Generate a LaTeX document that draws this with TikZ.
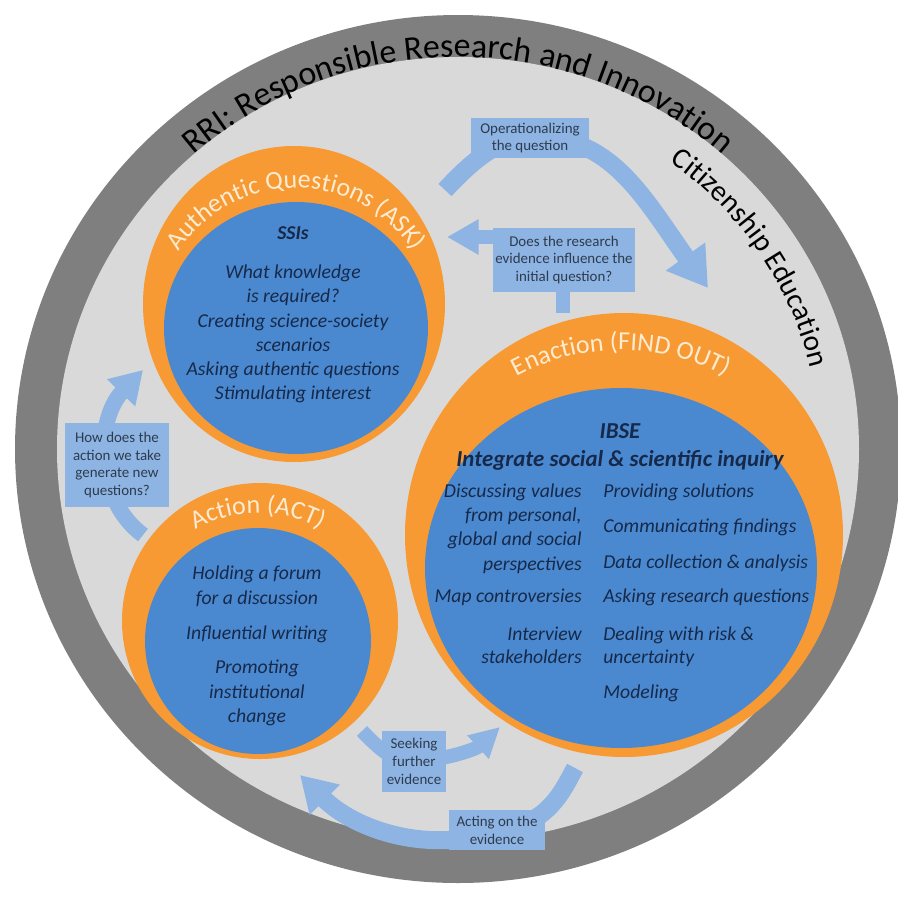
\documentclass[tikz,border=0pt]{standalone}
\usepackage{fontspec}
\setmainfont{Carlito}
\usetikzlibrary{arrows.meta, decorations.text}

\definecolor{ringgray}{HTML}{7F7F7F}
\definecolor{fieldgray}{HTML}{D9D9D9}
\definecolor{ringorange}{HTML}{F79A33}
\definecolor{coreblue}{HTML}{4A89CF}
\definecolor{loopblue}{HTML}{8DB4E2}
\definecolor{coretext}{HTML}{17294A}
\definecolor{looptext}{HTML}{2E3B4E}
\definecolor{ringtext}{HTML}{FDEBD2}

\tikzset{
  loopbox/.style={fill=loopblue, text=looptext, inner sep=0pt, align=center,
    font=\fontsize{8.5}{10.2}\selectfont},
  cyclearrow/.style={draw=loopblue, line width=#1},
  coretxt/.style={text=coretext, inner sep=0pt, font=\fontsize{11.2}{13.8}\selectfont\itshape},
  ringlabel/.style={decorate, decoration={text along path, text align=center,
    text color=ringtext, text={|\fontsize{14.8}{15}\selectfont|#1}}},
}

\begin{document}
\begin{tikzpicture}[x=0.02cm, y=-0.02cm]
  \clip (0,0) rectangle (898,907);
  \fill[white] (0,0) rectangle (898,907);

  % outer frame
  \fill[ringgray] (458,449) ellipse [x radius=443, y radius=434];
  \fill[fieldgray] (458,449) ellipse [x radius=401, y radius=392];
  \path[decorate, decoration={text along path, text align=center,
      text={|\fontsize{19.3}{20}\selectfont|RRI: Responsible Research and Innovation}}]
    ([shift={(458,449)}]-165:400 and 392) arc [start angle=-165, end angle=-15, x radius=400, y radius=392];
  \path[decorate, decoration={text along path, text align=center,
      text={|\fontsize{16.7}{17}\selectfont|Citizenship Education}}]
    ([shift={(458,449)}]-78.5:362 and 354) arc [start angle=-78.5, end angle=11.5, x radius=362, y radius=354];

  % the three stages
  \fill[ringorange] (294,304) ellipse [x radius=151, y radius=158];
  \fill[coreblue] (296,328) ellipse [x radius=132, y radius=126];
  \path[ringlabel={Authentic Questions (ASK)}]
    ([shift={(296,328)}]-160:140) arc [start angle=-160, end angle=-20, radius=140];

  \fill[ringorange] (624,535) ellipse [x radius=219, y radius=222];
  \fill[coreblue] (621,568) ellipse [x radius=196, y radius=180];
  \path[ringlabel={Enaction (FIND OUT)}]
    ([shift={(621,568)}]-130:218) arc [start angle=-130, end angle=-50, radius=218];

  \fill[ringorange] (260,621) circle [radius=138];
  \fill[coreblue] (258,641) circle [radius=113];
  \path[ringlabel={Action (ACT)}]
    ([shift={(258,641)}]-140:128) arc [start angle=-140, end angle=-40, radius=128];

  \node[coretxt] (ssis) at (293,233) {\bfseries SSIs};
  \node[coretxt, align=center] (asklist) at (293,334) {What knowledge\\is required?\\Creating science-society\\scenarios\\Asking authentic questions\\Stimulating interest};

  \node[coretxt, align=center] (actlist) at (257,646) {Holding a forum\\for a discussion\\[6pt]Influential writing\\[6pt]Promoting\\institutional\\change};

  \node[coretxt, font=\fontsize{13}{16.4}\selectfont\bfseries\itshape, align=center] (ibse) at (620,447) {IBSE\\Integrate social \& scientific inquiry};
  \foreach \txt/\yy [count=\i] in {Discussing values/497, {from personal,}/521, global and social/545,
      perspectives/570, Map controversies/602, Interview/640, stakeholders/663}
    \node[coretxt, anchor=base east] (findleft\i) at (582,\yy) {\txt};
  \foreach \txt/\yy [count=\i] in {Providing solutions/497, Communicating findings/532,
      Data collection \& analysis/568, Asking research questions/602, Dealing with risk \&/640,
      uncertainty/663, Modeling/698}
    \node[coretxt, anchor=base west] (findright\i) at (603,\yy) {\txt};

  % cycle arrows
  \coordinate (optail) at (445,190);
  \coordinate (opmid) at (530,138);
  \coordinate (optip) at (708,288);
  \coordinate (evtail) at (563,313);
  \coordinate (evmid) at (564,260);
  \coordinate (evtip) at (447,237);
  \coordinate (newtail) at (143,535);
  \coordinate (newmid) at (117,465);
  \coordinate (newtip) at (143,370);
  \coordinate (seektail) at (362,731);
  \coordinate (seekmid) at (414,761);
  \coordinate (seektip) at (500,727);
  \coordinate (acttail) at (575,768);
  \coordinate (actmid) at (497,830);
  \coordinate (acttip) at (300,775);

  \draw[cyclearrow=10.2pt, -{Triangle[width=26pt,length=22pt]}]
    (optail) .. controls (475,158) and (500,138) .. (opmid) .. controls (610,132) and (645,200) .. (optip);
  \draw[cyclearrow=8.5pt, -{Triangle[width=19pt,length=18pt]}] (evtail) |- (evtip);
  \draw[cyclearrow=9pt, -{Triangle[width=21pt,length=18pt]}]
    (newtail) .. controls (95,500) and (95,420) .. (newtip);
  \draw[cyclearrow=8pt, -{Triangle[width=17pt,length=17pt]}]
    (seektail) .. controls (385,755) and (395,761) .. (seekmid) .. controls (440,761) and (475,750) .. (seektip);
  \draw[cyclearrow=10.2pt, -{Triangle[width=23pt,length=20pt]}]
    (acttail) .. controls (563,790) and (548,826) .. (actmid) .. controls (430,855) and (355,830) .. (acttip);

  \node[loopbox, minimum width=2.38cm, minimum height=0.8cm] (opbox) at (opmid) {Operationalizing\\the question};
  \node[loopbox, minimum width=2.84cm, minimum height=1.28cm] (evbox) at (evmid) {Does the research\\evidence influence the\\initial question?};
  \node[loopbox, minimum width=2.1cm, minimum height=1.68cm] (newbox) at (newmid) {How does the\\action we take\\generate new\\questions?};
  \node[loopbox, minimum width=1.28cm, minimum height=1.22cm] (seekbox) at (seekmid) {Seeking\\further\\evidence};
  \node[loopbox, minimum width=1.94cm, minimum height=0.8cm] (actbox) at (actmid) {Acting on the\\evidence};
\end{tikzpicture}
\end{document}
